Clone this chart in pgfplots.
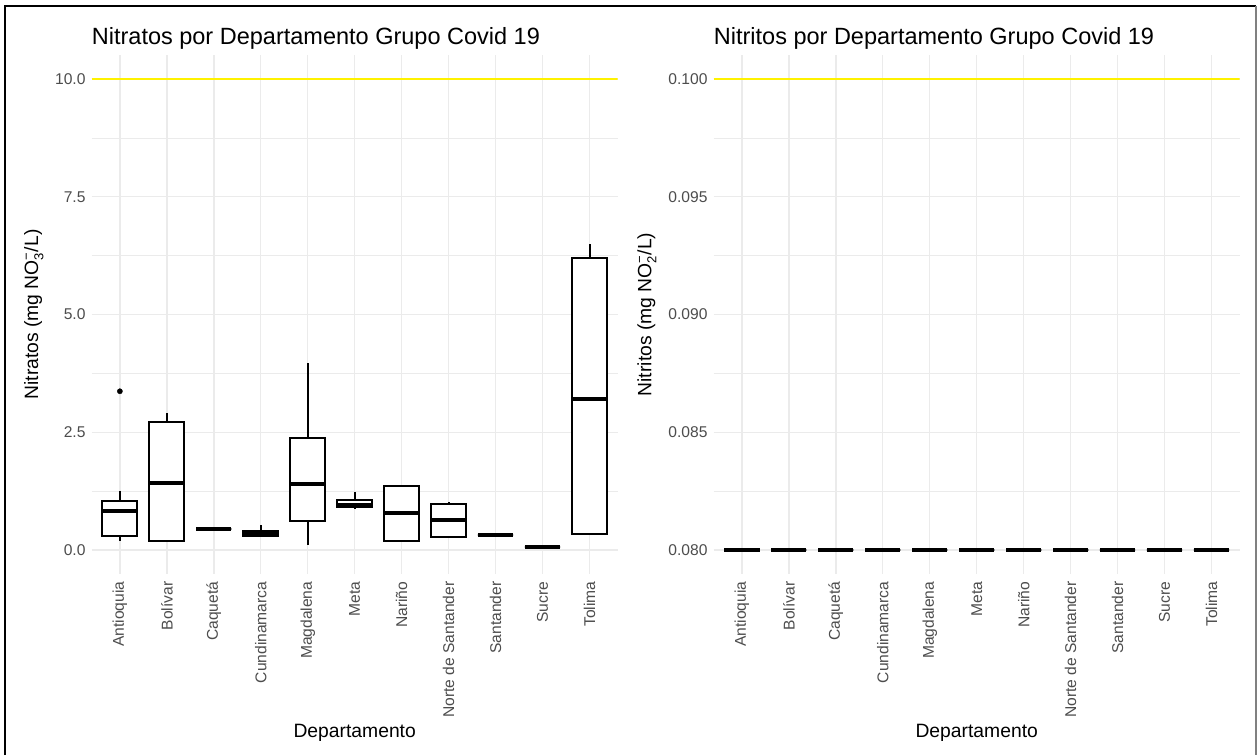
\documentclass[border=0pt]{standalone}
\usepackage{fontspec}
\setmainfont{Liberation Sans}
\usepackage{pgfplots}
\pgfplotsset{compat=1.18}
\usepgfplotslibrary{statistics}
\definecolor{gridc}{HTML}{EBEBEB}
\definecolor{tickc}{HTML}{4D4D4D}
\newcommand\supsub[2]{\ensuremath{^{\mbox{\fontsize{13}{13}\selectfont #1}}_{\mbox{\fontsize{13}{13}\selectfont #2}}}}
\pgfplotsset{
  panel/.style={
    scale only axis, width=526pt, height=518pt, anchor=south west,
    xmin=0.4, xmax=11.6,
    xtick={1,...,11},
    xticklabels={Antioquia,Bolívar,Caquetá,Cundinamarca,Magdalena,Meta,Nariño,Norte de Santander,Santander,Sucre,Tolima},
    axis line style={draw=none},
    major tick length=0pt, minor tick length=0pt,
    xmajorgrids=true, ymajorgrids=true, yminorgrids=true,
    major grid style={gridc, line width=1.4pt},
    minor grid style={gridc, line width=0.7pt},
    minor y tick num=1,
    tick label style={font=\fontsize{15.6}{18}\selectfont, text=tickc},
    xticklabel style={yshift=-8pt, rotate=90, anchor=east, inner sep=0pt},
    yticklabel style={xshift=-6pt, anchor=east, inner sep=0pt},
    /pgf/number format/assume math mode=true,
    label style={font=\fontsize{19.3}{23}\selectfont},
    title style={font=\fontsize{23.5}{28}\selectfont, anchor=base west, at={(axis description cs:0,1)}, yshift=5pt, inner sep=0pt},
    xlabel=Departamento,
    xlabel style={at={(axis description cs:0.5,-0.308)}, anchor=center},
    boxplot/draw direction=y,
    boxplot/box extend=0.75,
    boxplot/whisker extend=0,
    boxplot/every box/.style={draw=black, fill=white, line width=2pt},
    boxplot/every whisker/.style={black, line width=2pt},
    boxplot/every median/.style={black, line width=4pt},
  }
}
\begin{document}
\begin{tikzpicture}
\useasboundingbox (0pt,0pt) rectangle (1257pt,755pt);
\fill[white] (0pt,0pt) rectangle (1257pt,755pt);
% left panel
\begin{axis}[panel, at={(91.7pt,181.5pt)},
  ymin=-0.5, ymax=10.5, ytick={0,2.5,5,7.5,10},
  yticklabel style={/pgf/number format/.cd, fixed, fixed zerofill, precision=1},
  title={Nitratos por Departamento Grupo Covid 19},
  ylabel={Nitratos (mg NO\supsub{−}{3}/L)},
  ylabel style={at={(axis description cs:-0.11,0.5)}, anchor=center},
]
\addplot[boxplot prepared={draw position=1, lower whisker=0.20, lower quartile=0.30, median=0.83, upper quartile=1.03, upper whisker=1.25}] coordinates {};
\addplot[boxplot prepared={draw position=2, lower whisker=0.19, lower quartile=0.19, median=1.43, upper quartile=2.72, upper whisker=2.90}] coordinates {};
\addplot[boxplot prepared={draw position=3, lower whisker=0.44, lower quartile=0.44, median=0.44, upper quartile=0.44, upper whisker=0.44}] coordinates {};
\addplot[boxplot prepared={draw position=4, lower whisker=0.28, lower quartile=0.30, median=0.35, upper quartile=0.40, upper whisker=0.53}] coordinates {};
\addplot[boxplot prepared={draw position=5, lower whisker=0.11, lower quartile=0.62, median=1.41, upper quartile=2.37, upper whisker=3.97}] coordinates {};
\addplot[boxplot prepared={draw position=6, lower whisker=0.88, lower quartile=0.91, median=0.95, upper quartile=1.07, upper whisker=1.24}] coordinates {};
\addplot[boxplot prepared={draw position=7, lower whisker=0.20, lower quartile=0.20, median=0.78, upper quartile=1.36, upper whisker=1.38}] coordinates {};
\addplot[boxplot prepared={draw position=8, lower whisker=0.27, lower quartile=0.27, median=0.63, upper quartile=0.97, upper whisker=1.02}] coordinates {};
\addplot[boxplot prepared={draw position=9, lower whisker=0.32, lower quartile=0.32, median=0.32, upper quartile=0.32, upper whisker=0.32}] coordinates {};
\addplot[boxplot prepared={draw position=10, lower whisker=0.06, lower quartile=0.06, median=0.06, upper quartile=0.06, upper whisker=0.06}] coordinates {};
\addplot[boxplot prepared={draw position=11, lower whisker=0.33, lower quartile=0.33, median=3.21, upper quartile=6.20, upper whisker=6.50}] coordinates {};
\addplot[only marks, mark=*, mark size=2.6pt, black] coordinates {(1,3.37)};
\addplot[yellow, line width=2pt] coordinates {(0.4,10) (11.6,10)};
\end{axis}
% right panel (values in thousandths of mg/L: 80 = 0.080)
\begin{axis}[panel, at={(713.7pt,181.5pt)},
  ymin=79, ymax=101, ytick={80,85,90,95,100},
  yticklabels={0.080,0.085,0.090,0.095,0.100},
  title={Nitritos por Departamento Grupo Covid 19},
  ylabel={Nitritos (mg NO\supsub{−}{2}/L)},
  ylabel style={at={(axis description cs:-0.127,0.5)}, anchor=center},
]
\pgfplotsinvokeforeach{1,...,11}{
\addplot[boxplot prepared={draw position=#1, lower whisker=80, lower quartile=80, median=80, upper quartile=80, upper whisker=80}] coordinates {};
}
\addplot[yellow, line width=2pt] coordinates {(0.4,100) (11.6,100)};
\end{axis}
\draw[line width=1.6pt, black] (5pt,0pt) -- (5pt,749pt) -- (1256pt,749pt);
\draw[line width=1.6pt, gray] (1256pt,749pt) -- (1256pt,0pt);
\end{tikzpicture}
\end{document}
